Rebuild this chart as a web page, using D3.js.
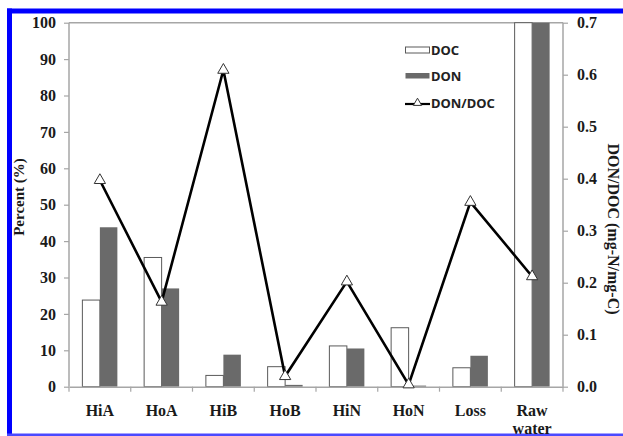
<!DOCTYPE html>
<html><head><meta charset="utf-8">
<script src="https://cdn.jsdelivr.net/npm/d3@7"></script>
<style>body{margin:0;background:#fff}svg{display:block}</style>
</head><body><svg id="c" width="623" height="436"></svg>
<script>
const categories = ["HiA","HoA","HiB","HoB","HiN","HoN","Loss","Raw water"];
const docValues = [23.8, 35.5, 3.1, 5.5, 11.2, 16.2, 5.2, 100];
const donValues = [43.8, 27.0, 8.8, 0.5, 10.5, 0.3, 8.5, 100];
const ratioValues = [0.397, 0.163, 0.609, 0.020, 0.202, 0.004, 0.355, 0.212];
const leftTicks = [0,10,20,30,40,50,60,70,80,90,100];
const rightTicks = [0,0.1,0.2,0.3,0.4,0.5,0.6,0.7];

const svg = d3.select("#c");
const L = 69, R = 563, T = 22.7, B = 386.7;
const x = d3.scaleBand().domain(categories).range([L, R]);
const y = d3.scaleLinear().domain([0,100]).range([B, T]);
const y2 = d3.scaleLinear().domain([0,0.7]).range([B, T]);
const serif = "'Liberation Serif','Times New Roman',serif";
const sans = "'Noto Sans','Open Sans',sans-serif";
const axisCol = "#a6a6a6";

// blue frame
svg.append("rect").attr("x",7).attr("y",8.5).attr("width",616).attr("height",5).attr("fill","#0000ff");
svg.append("rect").attr("x",7).attr("y",8.5).attr("width",5).attr("height",428).attr("fill","#0000ff");
svg.append("rect").attr("x",7).attr("y",433.5).attr("width",616).attr("height",2.5).attr("fill","#4a4aff");

// top frame line
svg.append("line").attr("x1",L).attr("x2",R).attr("y1",T).attr("y2",T).attr("stroke",axisCol).attr("stroke-width",1.5);

// bars
const bw = 17.5;
const g = svg.append("g");
g.selectAll("rect.doc").data(categories).join("rect")
  .attr("x", (d)=>x(d)+x.bandwidth()/2-bw)
  .attr("y", (d,i)=>y(docValues[i]))
  .attr("width", bw).attr("height",(d,i)=>B-y(docValues[i]))
  .attr("fill","#fff").attr("stroke","#5a5a5a").attr("stroke-width",1);
g.selectAll("rect.don").data(categories).join("rect")
  .attr("x", (d)=>x(d)+x.bandwidth()/2)
  .attr("y", (d,i)=>y(donValues[i]))
  .attr("width", bw).attr("height",(d,i)=>B-y(donValues[i]))
  .attr("fill","#6a6a6a");

// axes
const la = svg.append("g").attr("transform",`translate(${L},0)`)
  .call(d3.axisLeft(y).tickValues(leftTicks).tickSize(5).tickPadding(8).tickFormat(d3.format("d")));
const ra = svg.append("g").attr("transform",`translate(${R},0)`)
  .call(d3.axisRight(y2).tickValues(rightTicks).tickSize(5).tickPadding(9).tickFormat(d3.format(".1f")));
const ba = svg.append("g").attr("transform",`translate(0,${B})`)
  .call(d3.axisBottom(x).tickSize(0).tickFormat(""));
ba.selectAll("line.b").data(d3.range(categories.length+1)).join("line")
  .attr("x1",i=>L+i*x.step()).attr("x2",i=>L+i*x.step()).attr("y1",0).attr("y2",5)
  .attr("stroke",axisCol).attr("stroke-width",1.2);
[la,ra,ba].forEach(a=>{
  a.select(".domain").attr("stroke",axisCol).attr("stroke-width",1.5);
  a.selectAll(".tick line").attr("stroke",axisCol).attr("stroke-width",1.2);
  a.selectAll("text").attr("font-family",serif).attr("font-weight","bold").attr("font-size",16).attr("fill","#1a1a1a");
});
la.select(".domain").attr("d",`M0,${B}V${T}`);
ra.select(".domain").attr("d",`M0,${B}V${T}`);

// category labels
const cl = svg.append("g").attr("font-family",serif).attr("font-weight","bold").attr("font-size",16).attr("fill","#1a1a1a").attr("text-anchor","middle");
categories.forEach(c=>{
  const parts = c.split(" ");
  parts.forEach((p,j)=>{
    cl.append("text").attr("x",x(c)+x.bandwidth()/2).attr("y",416+j*17.5).text(p);
  });
});

// ratio line
const cx = d => x(d)+x.bandwidth()/2;
svg.append("path").datum(categories)
  .attr("d", d3.line().x(d=>cx(d)).y((d,i)=>y2(ratioValues[i])))
  .attr("fill","none").attr("stroke","#000").attr("stroke-width",2.6);
const tri = d3.symbol().type(d3.symbolTriangle).size(55);
svg.selectAll("path.m").data(categories).join("path")
  .attr("transform",(d,i)=>`translate(${cx(d)},${y2(ratioValues[i])})`)
  .attr("d",tri).attr("fill","#fff").attr("stroke","#333").attr("stroke-width",1);

// axis titles
svg.append("text").attr("transform","translate(24,197) rotate(-90)").attr("text-anchor","middle")
  .attr("font-family",serif).attr("font-weight","bold").attr("font-size",15).attr("fill","#1a1a1a").text("Percent (%)");
svg.append("text").attr("transform","translate(608,229) rotate(90)").attr("text-anchor","middle")
  .attr("font-family",serif).attr("font-weight","bold").attr("font-size",16).attr("fill","#1a1a1a").text("DON/DOC (mg-N/mg-C)");

// legend
const lg = svg.append("g").attr("font-family",sans).attr("font-weight","bold").attr("font-size",13).attr("fill","#222");
lg.append("rect").attr("x",405.5).attr("y",47).attr("width",24).attr("height",6).attr("fill","#fff").attr("stroke","#5a5a5a");
lg.append("text").attr("x",431).attr("y",50.5).attr("dy","0.35em").text("DOC");
lg.append("rect").attr("x",405.5).attr("y",73).attr("width",24).attr("height",5.5).attr("fill","#6a6a6a");
lg.append("text").attr("x",431).attr("y",76.5).attr("dy","0.35em").text("DON");
lg.append("line").attr("x1",405).attr("x2",430).attr("y1",104).attr("y2",104).attr("stroke","#000").attr("stroke-width",2.2);
lg.append("path").attr("transform","translate(417.5,103)").attr("d",d3.symbol().type(d3.symbolTriangle).size(30)).attr("fill","#fff").attr("stroke","#333");
lg.append("text").attr("x",431).attr("y",103.5).attr("dy","0.35em").text("DON/DOC");
</script></body></html>
